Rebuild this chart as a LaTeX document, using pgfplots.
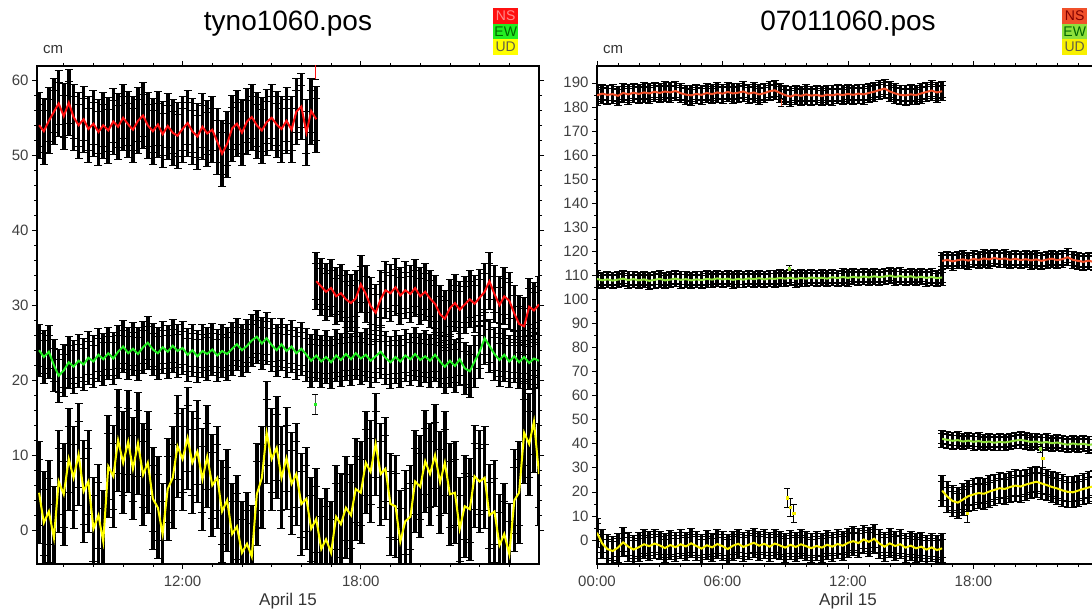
\documentclass[border=0pt]{standalone}
\usepackage{pgfplots}
\usepackage{pgfplotstable}
\pgfplotsset{compat=1.18}
\usepackage{fontspec}
\setmainfont{Liberation Sans}

\definecolor{lns}{HTML}{FF1010}
\definecolor{lew}{HTML}{22EE22}
\definecolor{lud}{HTML}{FFFF00}
\definecolor{rns}{HTML}{F0502A}
\definecolor{rew}{HTML}{8EE03C}
\definecolor{rud}{HTML}{F8F000}

% ---------------- left panel data (hours, cm) ----------------
\pgfplotstableread{
x y
7.17 54.0
7.33 53.2
7.50 54.6
7.67 55.8
7.83 56.9
8.00 55.2
8.17 57.0
8.33 55.1
8.50 54.0
8.67 54.8
8.83 53.5
9.00 54.2
9.17 53.1
9.33 54.0
9.50 53.3
9.67 54.5
9.83 53.8
10.00 55.0
10.17 54.1
10.33 53.4
10.50 54.6
10.67 55.3
10.83 54.0
11.00 53.2
11.17 54.1
11.33 52.8
11.50 53.9
11.67 53.0
11.83 52.6
12.00 53.5
12.17 54.3
12.33 53.2
12.50 52.5
12.67 53.8
12.83 52.9
13.00 53.4
13.17 51.8
13.33 50.2
13.50 51.5
13.67 53.6
13.83 54.2
14.00 53.0
14.17 54.5
14.33 55.1
14.50 54.0
14.67 53.3
14.83 54.4
15.00 55.0
15.17 54.1
15.33 53.5
15.50 54.6
15.67 53.4
15.83 55.8
16.00 56.5
16.17 53.0
16.33 55.9
16.50 54.8
}\lNSa
\pgfplotstableread{
x y
16.50 33.2
16.67 32.5
16.83 31.8
17.00 32.3
17.17 31.2
17.33 31.6
17.50 30.8
17.67 30.3
17.83 30.9
18.00 32.8
18.17 31.5
18.33 29.9
18.50 29.0
18.67 30.8
18.83 32.0
19.00 31.6
19.17 32.4
19.33 31.3
19.50 32.0
19.67 31.5
19.83 32.3
20.00 31.2
20.17 31.8
20.33 30.9
20.50 30.2
20.67 28.8
20.83 28.2
21.00 29.6
21.17 30.3
21.33 29.4
21.50 30.1
21.67 30.8
21.83 30.2
22.00 31.0
22.17 31.8
22.33 33.2
22.50 31.5
22.67 30.0
22.83 31.2
23.00 30.6
23.17 28.9
23.33 27.5
23.50 27.2
23.67 29.8
23.83 29.3
24.00 30.1
}\lNSb
\pgfplotstableread{
x y
7.17 24.0
7.33 23.1
7.50 23.8
7.67 22.0
7.83 20.6
8.00 21.3
8.17 22.4
8.33 21.8
8.50 22.6
8.67 22.1
8.83 23.0
9.00 22.5
9.17 23.4
9.33 22.8
9.50 23.6
9.67 22.9
9.83 23.8
10.00 24.5
10.17 23.6
10.33 24.2
10.50 23.5
10.67 24.4
10.83 25.0
11.00 24.1
11.17 23.6
11.33 24.4
11.50 23.8
11.67 24.6
11.83 23.9
12.00 24.3
12.17 23.4
12.33 24.0
12.50 23.2
12.67 23.9
12.83 23.5
13.00 24.1
13.17 23.3
13.33 23.9
13.50 23.5
13.67 24.2
13.83 24.8
14.00 24.0
14.17 24.6
14.33 25.3
14.50 25.8
14.67 24.9
14.83 25.6
15.00 24.7
15.17 24.0
15.33 24.8
15.50 23.9
15.67 24.5
15.83 23.6
16.00 24.2
16.17 23.4
16.33 22.6
16.50 23.3
16.67 22.5
16.83 23.1
17.00 22.4
17.17 23.3
17.33 22.7
17.50 23.5
17.67 22.8
17.83 23.6
18.00 22.9
18.17 23.4
18.33 22.6
18.50 23.2
18.67 23.8
18.83 23.0
19.00 22.4
19.17 23.1
19.33 22.5
19.50 23.3
19.67 22.8
19.83 23.5
20.00 22.7
20.17 23.2
20.33 22.6
20.50 23.4
20.67 22.5
20.83 21.8
21.00 22.6
21.17 21.9
21.33 22.8
21.50 21.6
21.67 21.2
21.83 22.5
22.00 23.8
22.17 25.6
22.33 24.6
22.50 23.5
22.67 22.7
22.83 23.4
23.00 22.5
23.17 23.2
23.33 22.4
23.50 23.1
23.67 22.3
23.83 22.9
24.00 22.6
}\lEW
\pgfplotstableread{
x y
7.17 5.0
7.33 1.0
7.50 2.5
7.67 -1.0
7.83 6.5
8.00 4.8
8.17 9.5
8.33 7.0
8.50 10.1
8.67 5.2
8.83 6.5
9.00 0.2
9.17 2.0
9.33 -1.5
9.50 8.5
9.67 7.2
9.83 12.0
10.00 9.0
10.17 11.8
10.33 8.2
10.50 11.6
10.67 7.4
10.83 9.0
11.00 4.2
11.17 3.0
11.33 -0.5
11.50 5.5
11.67 7.0
11.83 11.2
12.00 9.5
12.17 12.3
12.33 9.0
12.50 10.5
12.67 6.8
12.83 9.8
13.00 6.0
13.17 7.0
13.33 2.5
13.50 4.0
13.67 -0.5
13.83 0.5
14.00 -3.0
14.17 -1.8
14.33 -3.5
14.50 4.8
14.67 7.0
14.83 13.0
15.00 9.5
15.17 11.0
15.33 7.0
15.50 9.6
15.67 6.2
15.83 7.5
16.00 3.5
16.17 4.2
16.33 0.2
16.50 1.5
16.67 -2.5
16.83 -1.2
17.00 -3.0
17.17 1.8
17.33 0.8
17.50 3.0
17.67 2.0
17.83 5.5
18.00 5.0
18.17 9.0
18.33 7.8
18.50 11.5
18.67 7.5
18.83 8.2
19.00 3.5
19.17 3.2
19.33 -1.5
19.50 1.2
19.67 1.8
19.83 6.5
20.00 5.8
20.17 9.2
20.33 7.5
20.50 10.0
20.67 6.4
20.83 9.0
21.00 4.8
21.17 5.0
21.33 0.2
21.50 3.2
21.67 2.8
21.83 7.2
22.00 6.5
22.17 7.0
22.33 2.0
22.50 2.5
22.67 -2.0
22.83 -0.5
23.00 -3.2
23.17 4.0
23.33 5.0
23.50 13.0
23.67 11.5
23.83 14.5
24.00 7.5
}\lUD

% ---------------- right panel data (hours, cm) ----------------
\pgfplotstableread{
x y
0.00 184.8
0.25 185.5
0.50 185.0
0.75 185.3
1.00 184.6
1.25 185.8
1.50 185.2
1.75 185.9
2.00 185.4
2.25 186.0
2.50 185.6
2.75 186.3
3.00 185.8
3.25 186.4
3.50 186.0
3.75 186.6
4.00 185.7
4.25 185.1
4.50 184.8
4.75 185.4
5.00 185.0
5.25 185.8
5.50 185.3
5.75 186.0
6.00 185.5
6.25 186.2
6.50 185.6
6.75 185.9
7.00 186.4
7.25 185.5
7.50 186.0
7.75 185.2
8.00 185.7
8.25 186.5
8.50 186.9
8.75 185.8
9.00 184.9
9.25 184.3
9.50 185.1
9.75 184.6
10.00 185.2
10.25 184.7
10.50 185.0
10.75 184.5
11.00 185.1
11.25 184.8
11.50 185.3
11.75 184.9
12.00 185.4
12.25 185.0
12.50 185.5
12.75 185.2
13.00 185.8
13.25 186.3
13.50 187.0
13.75 187.6
14.00 186.4
14.25 185.6
14.50 185.0
14.75 184.8
15.00 185.2
15.25 184.9
15.50 185.6
15.75 186.2
16.00 186.8
16.25 186.0
16.50 186.5
}\rNSa
\pgfplotstableread{
x y
16.50 116.0
16.75 116.4
17.00 115.8
17.25 116.3
17.50 116.6
17.75 116.1
18.00 116.8
18.25 116.4
18.50 117.0
18.75 116.6
19.00 117.2
19.25 116.7
19.50 117.0
19.75 116.4
20.00 116.9
20.25 116.3
20.50 116.7
20.75 116.2
21.00 116.6
21.25 116.0
21.50 116.5
21.75 116.9
22.00 116.3
22.25 116.7
22.50 117.5
22.75 116.4
23.00 116.0
23.25 115.6
23.50 116.1
23.75 115.5
24.00 115.8
}\rNSb
\pgfplotstableread{
x y
0.00 108.5
0.25 107.9
0.50 108.3
0.75 107.8
1.00 108.2
1.25 108.6
1.50 108.0
1.75 108.4
2.00 107.9
2.25 108.3
2.50 107.7
2.75 108.1
3.00 108.5
3.25 107.9
3.50 108.2
3.75 108.6
4.00 108.1
4.25 108.4
4.50 107.9
4.75 108.3
5.00 108.0
5.25 108.5
5.50 108.2
5.75 108.7
6.00 108.3
6.25 108.6
6.50 108.1
6.75 108.5
7.00 108.2
7.25 108.7
7.50 108.4
7.75 108.8
8.00 108.3
8.25 108.7
8.50 108.5
8.75 108.9
9.00 108.6
9.25 109.0
9.50 108.5
9.75 108.9
10.00 108.6
10.25 109.1
10.50 108.7
10.75 109.0
11.00 108.6
11.25 109.2
11.50 108.8
11.75 109.3
12.00 108.9
12.25 109.4
12.50 109.0
12.75 109.5
13.00 109.1
13.25 109.6
13.50 109.2
13.75 109.5
14.00 109.9
14.25 109.3
14.50 109.7
14.75 109.2
15.00 109.6
15.25 109.0
15.50 109.4
15.75 108.9
16.00 109.3
16.25 108.8
16.50 109.1
}\rEWa
\pgfplotstableread{
x y
16.50 42.0
16.75 41.6
17.00 41.2
17.25 41.5
17.50 40.9
17.75 41.3
18.00 40.8
18.25 41.1
18.50 40.6
18.75 40.9
19.00 40.4
19.25 40.8
19.50 40.5
19.75 40.9
20.00 41.3
20.25 41.6
20.50 41.2
20.75 40.7
21.00 40.9
21.25 40.4
21.50 40.7
21.75 40.2
22.00 40.5
22.25 40.0
22.50 39.6
22.75 40.1
23.00 39.7
23.25 40.0
23.50 39.5
23.75 39.8
24.00 39.4
}\rEWb
\pgfplotstableread{
x y
0.00 3.0
0.25 -1.5
0.50 -3.8
0.75 -4.6
1.00 -3.2
1.25 -1.0
1.50 -2.8
1.75 -4.0
2.00 -3.0
2.25 -1.8
2.50 -2.6
2.75 -1.5
3.00 -2.3
3.25 -3.4
3.50 -2.1
3.75 -3.0
4.00 -1.8
4.25 -2.7
4.50 -1.4
4.75 -2.5
5.00 -3.6
5.25 -2.2
5.50 -3.1
5.75 -1.7
6.00 -2.6
6.25 -3.8
6.50 -2.4
6.75 -1.6
7.00 -2.9
7.25 -2.0
7.50 -1.2
7.75 -2.4
8.00 -1.6
8.25 -2.8
8.50 -1.5
8.75 -2.3
9.00 -3.2
9.25 -2.0
9.50 -2.9
9.75 -1.8
10.00 -2.6
10.25 -3.4
10.50 -2.5
10.75 -3.2
11.00 -2.0
11.25 -2.8
11.50 -1.7
11.75 -2.4
12.00 -1.2
12.25 -0.5
12.50 -1.3
12.75 0.2
13.00 -0.8
13.25 0.5
13.50 -1.5
13.75 -2.8
14.00 -1.4
14.25 -2.5
14.50 -1.8
14.75 -3.2
15.00 -2.4
15.25 -3.5
15.50 -2.8
15.75 -4.0
16.00 -3.1
16.25 -4.2
16.50 -3.5
}\rUDa
\pgfplotstableread{
x y
16.50 20.5
16.75 18.0
17.00 16.2
17.25 15.5
17.50 16.8
17.75 18.2
18.00 18.9
18.25 19.5
18.50 19.2
18.75 20.1
19.00 20.8
19.25 21.5
19.50 21.2
19.75 22.0
20.00 22.6
20.25 22.2
20.50 23.0
20.75 23.6
21.00 24.2
21.25 23.5
21.50 22.8
21.75 22.0
22.00 21.4
22.25 20.6
22.50 20.0
22.75 19.8
23.00 20.5
23.25 21.2
23.50 21.8
23.75 22.3
24.00 22.0
}\rUDb

\pgfplotsset{
  errband/.style={draw=none, mark=none, forget plot,
    error bars/.cd, y dir=both, y fixed=#1,
    error mark=-,
    error bar style={draw=black, line width=3.6pt},
    error mark options={draw=black, rotate=90, mark size=4pt, line width=0.9pt}},
  trace/.style={draw=#1, line width=2pt, mark=none, forget plot},
  panel/.style={scale only axis, width=502pt, height=498pt,
    tick align=outside, major tick length=5pt, minor tick length=3pt,
    axis line style={line width=1.5pt},
    every tick/.style={black, line width=0.6pt},
    ticklabel style={font=\fontsize{15}{15}\selectfont, text=black!75},
    xticklabel style={yshift=-3pt},
    /pgf/number format/assume math mode=true,
    clip=true},
}

\begin{document}
\begin{tikzpicture}[x=1pt,y=1pt]
% ---------------- left panel ----------------
\begin{axis}[panel, at={(37pt,46pt)}, anchor=south west,
  xmin=7.1, xmax=24, ymin=-4.5, ymax=61.9,
  xtick={12,18}, xticklabels={12:00,18:00},
  minor xtick={8,9,10,11,13,14,15,16,17,19,20,21,22,23},
  ytick={0,10,20,30,40,50,60}, minor y tick num=4]
\addplot[errband=4.4] table {\lNSa};
\addplot[errband=2.8] table {\lNSa};
\addplot[trace=lns] table {\lNSa};
\addplot[errband=3.8] table {\lNSb};
\addplot[errband=2.4] table {\lNSb};
\addplot[trace=lns] table {\lNSb};
\addplot[errband=3.5] table {\lEW};
\addplot[errband=2.2] table {\lEW};
\addplot[trace=lew] table {\lEW};
\addplot[errband=6.8] table {\lUD};
\addplot[errband=4.4] table {\lUD};
\addplot[trace=lud] table {\lUD};
% outliers
\addplot[draw=none, mark=none, error bars/.cd, y dir=both, y fixed=1.0,
  error mark=-, error bar style={draw=lns, line width=0.8pt},
  error mark options={draw=black, rotate=90, mark size=3pt}] coordinates {(16.48,61.2)};
\addplot[draw=none, mark=none, error bars/.cd, y dir=both, y fixed=1.3,
  error mark=-, error bar style={draw=black!70, line width=0.8pt},
  error mark options={draw=black, rotate=90, mark size=3pt}] coordinates {(16.46,16.8)};
\addplot[only marks, mark=square*, mark size=1.2pt, color=lew] coordinates {(16.46,16.8)};
\end{axis}

% ---------------- right panel ----------------
\begin{axis}[panel, at={(597pt,46pt)}, anchor=south west,
  xmin=0, xmax=24, ymin=-10, ymax=197,
  xtick={0,6,12,18}, xticklabels={00:00,06:00,12:00,18:00},
  minor xtick={1,2,3,4,5,7,8,9,10,11,13,14,15,16,17,19,20,21,22,23},
  ytick={0,10,...,190}, minor y tick num=1]
\addplot[errband=4.0] table {\rNSa};
\addplot[errband=2.5] table {\rNSa};
\addplot[trace=rns] table {\rNSa};
\addplot[errband=3.6] table {\rNSb};
\addplot[errband=2.3] table {\rNSb};
\addplot[trace=rns] table {\rNSb};
\addplot[errband=3.4] table {\rEWa};
\addplot[errband=2.1] table {\rEWa};
\addplot[trace=rew] table {\rEWa};
\addplot[errband=3.4] table {\rEWb};
\addplot[errband=2.1] table {\rEWb};
\addplot[trace=rew] table {\rEWb};
\addplot[errband=6.0] table {\rUDa};
\addplot[errband=3.8] table {\rUDa};
\addplot[trace=rud] table {\rUDa};
\addplot[errband=6.5] table {\rUDb};
\addplot[errband=4.0] table {\rUDb};
\addplot[trace=rud] table {\rUDb};
% outliers
\addplot[draw=none, mark=none, forget plot, error bars/.cd, y dir=both, y fixed=3.8,
  error mark=-, error bar style={draw=black, line width=0.8pt},
  error mark options={draw=black, rotate=90, mark size=3pt}]
  coordinates {(9.10,17.5) (9.25,13.5) (9.40,11.0) (17.7,11.0) (21.3,34.0)};
\addplot[only marks, mark=square*, mark size=1.2pt, color=rud] coordinates {(9.10,17.5) (9.25,13.5) (9.40,11.0) (17.7,11.0) (21.3,34.0)};
\addplot[draw=none, mark=none, forget plot, error bars/.cd, y dir=both, y fixed=1.6,
  error mark=-, error bar style={draw=black, line width=0.8pt},
  error mark options={draw=black, rotate=90, mark size=3pt}]
  coordinates {(9.2,112.8) (21.2,38.0)};
\addplot[only marks, mark=square*, mark size=1.2pt, color=rew] coordinates {(9.2,112.8) (21.2,38.0)};
\addplot[draw=none, mark=none, forget plot, error bars/.cd, y dir=both, y fixed=1.8,
  error mark=-, error bar style={draw=rns, line width=0.8pt},
  error mark options={draw=black, rotate=90, mark size=3pt}]
  coordinates {(8.8,182.0)};
\end{axis}

% ---------------- titles, units, keys ----------------
\node[font=\fontsize{28}{28}\selectfont] at (288,586) {tyno1060.pos};
\node[font=\fontsize{28}{28}\selectfont] at (848,586) {07011060.pos};
\node[font=\fontsize{15}{15}\selectfont, text=black!80] at (53,560) {cm};
\node[font=\fontsize{15}{15}\selectfont, text=black!80] at (613,560) {cm};
\node[font=\fontsize{17}{17}\selectfont, text=black!80] at (288,9) {April 15};
\node[font=\fontsize{17}{17}\selectfont, text=black!80] at (848,9) {April 15};

\begin{scope}[every node/.style={anchor=north west, minimum width=25pt, minimum height=15.5pt, inner sep=0pt, font=\fontsize{14}{14}\selectfont}]
\node[fill=lns, text=red!45!white] at (493,602) {NS};
\node[fill=lew, text=green!40!black] at (493,586.5) {EW};
\node[fill=lud, text=black!70!yellow] at (493,571) {UD};
\node[fill=rns, text=red!50!black] at (1062,602) {NS};
\node[fill=rew, text=green!40!black] at (1062,586.5) {EW};
\node[fill=rud, text=black!70!yellow] at (1062,571) {UD};
\end{scope}

\pgfresetboundingbox
\path[use as bounding box] (0,0) rectangle (1092,610);
\end{tikzpicture}
\end{document}
